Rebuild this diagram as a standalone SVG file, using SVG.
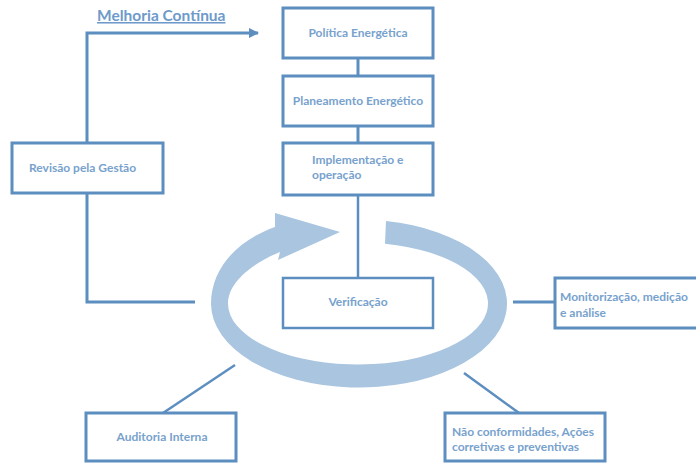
<svg xmlns="http://www.w3.org/2000/svg" width="696" height="463" viewBox="0 0 696 463">
  <style>
    .box { fill: #ffffff; stroke: #5d8ec0; stroke-width: 3; }
    .thin { stroke-width: 2.5; }
    .link { fill: none; stroke: #5d8ec0; stroke-width: 3; }
    .diag { fill: none; stroke: #5d8ec0; stroke-width: 2.5; }
    .lbl { font-family: Lato, "Liberation Sans", sans-serif; font-weight: bold; font-size: 12px; fill: #78a2cd; }
    .mid { text-anchor: middle; }
    .title { font-family: Lato, "Liberation Sans", sans-serif; font-weight: bold; font-size: 15.5px; fill: #6e9acb; text-decoration: underline; }
    .cycle { fill: #a9c5e0; }
  </style>
  <defs>
    <marker id="arrow" markerWidth="10" markerHeight="10" refX="9" refY="5" orient="auto" markerUnits="userSpaceOnUse" viewBox="0 0 10 10">
      <path d="M0,0 L10,5 L0,10 Z" fill="#5d8ec0"/>
    </marker>
  </defs>

  <rect width="696" height="463" fill="#ffffff"/>

  <!-- circular improvement arrow -->
  <path class="cycle" d="M386,221 A148,84 0 1 1 211,304 C211,268 238,240 275,227 L275,213 L340,232 L278,260 L280,252 C255,262 228,281 228,303.5 A130,61 0 1 0 385,243.8 Z"/>

  <!-- connectors -->
  <g id="connectors">
    <polyline class="link" points="87,143 87,33 258,33" marker-end="url(#arrow)"/>
    <polyline class="link" points="87,193 87,302 195,302"/>
    <line class="link" x1="358" y1="58" x2="358" y2="76"/>
    <line class="link" x1="358" y1="126" x2="358" y2="143"/>
    <line class="diag" x1="358" y1="195" x2="358" y2="278"/>
    <line class="link" x1="513" y1="302" x2="555" y2="302"/>
    <line class="diag" x1="235" y1="365" x2="163" y2="413"/>
    <line class="diag" x1="464" y1="373" x2="519" y2="413"/>
  </g>

  <g id="melhoria">
    <text class="title" x="97" y="21">Melhoria Contínua</text>
  </g>

  <g id="politica">
    <rect class="box" x="283" y="8" width="150" height="50"/>
    <text class="lbl mid" x="358" y="37">Política Energética</text>
  </g>

  <g id="planeamento">
    <rect class="box" x="283" y="76" width="150" height="50"/>
    <text class="lbl mid" x="358" y="105">Planeamento Energético</text>
  </g>

  <g id="implementacao">
    <rect class="box" x="283" y="143" width="150" height="52"/>
    <text class="lbl" x="312" y="164">Implementação e</text>
    <text class="lbl" x="312" y="179">operação</text>
  </g>

  <g id="revisao">
    <rect class="box" x="12" y="143" width="151" height="50"/>
    <text class="lbl" x="29" y="172">Revisão pela Gestão</text>
  </g>

  <g id="verificacao">
    <rect class="box thin" x="283" y="278" width="150" height="50"/>
    <text class="lbl mid" x="358" y="306">Verificação</text>
  </g>

  <g id="monitorizacao">
    <rect class="box" x="555" y="278" width="145" height="50"/>
    <text class="lbl" x="560" y="301">Monitorização, medição</text>
    <text class="lbl" x="560" y="317">e análise</text>
  </g>

  <g id="auditoria">
    <rect class="box" x="86" y="413" width="150" height="48"/>
    <text class="lbl mid" x="162" y="441">Auditoria Interna</text>
  </g>

  <g id="nao-conformidades">
    <rect class="box" x="445" y="413" width="160" height="48"/>
    <text class="lbl" x="452" y="436">Não conformidades, Ações</text>
    <text class="lbl" x="452" y="451">corretivas e preventivas</text>
  </g>
</svg>
